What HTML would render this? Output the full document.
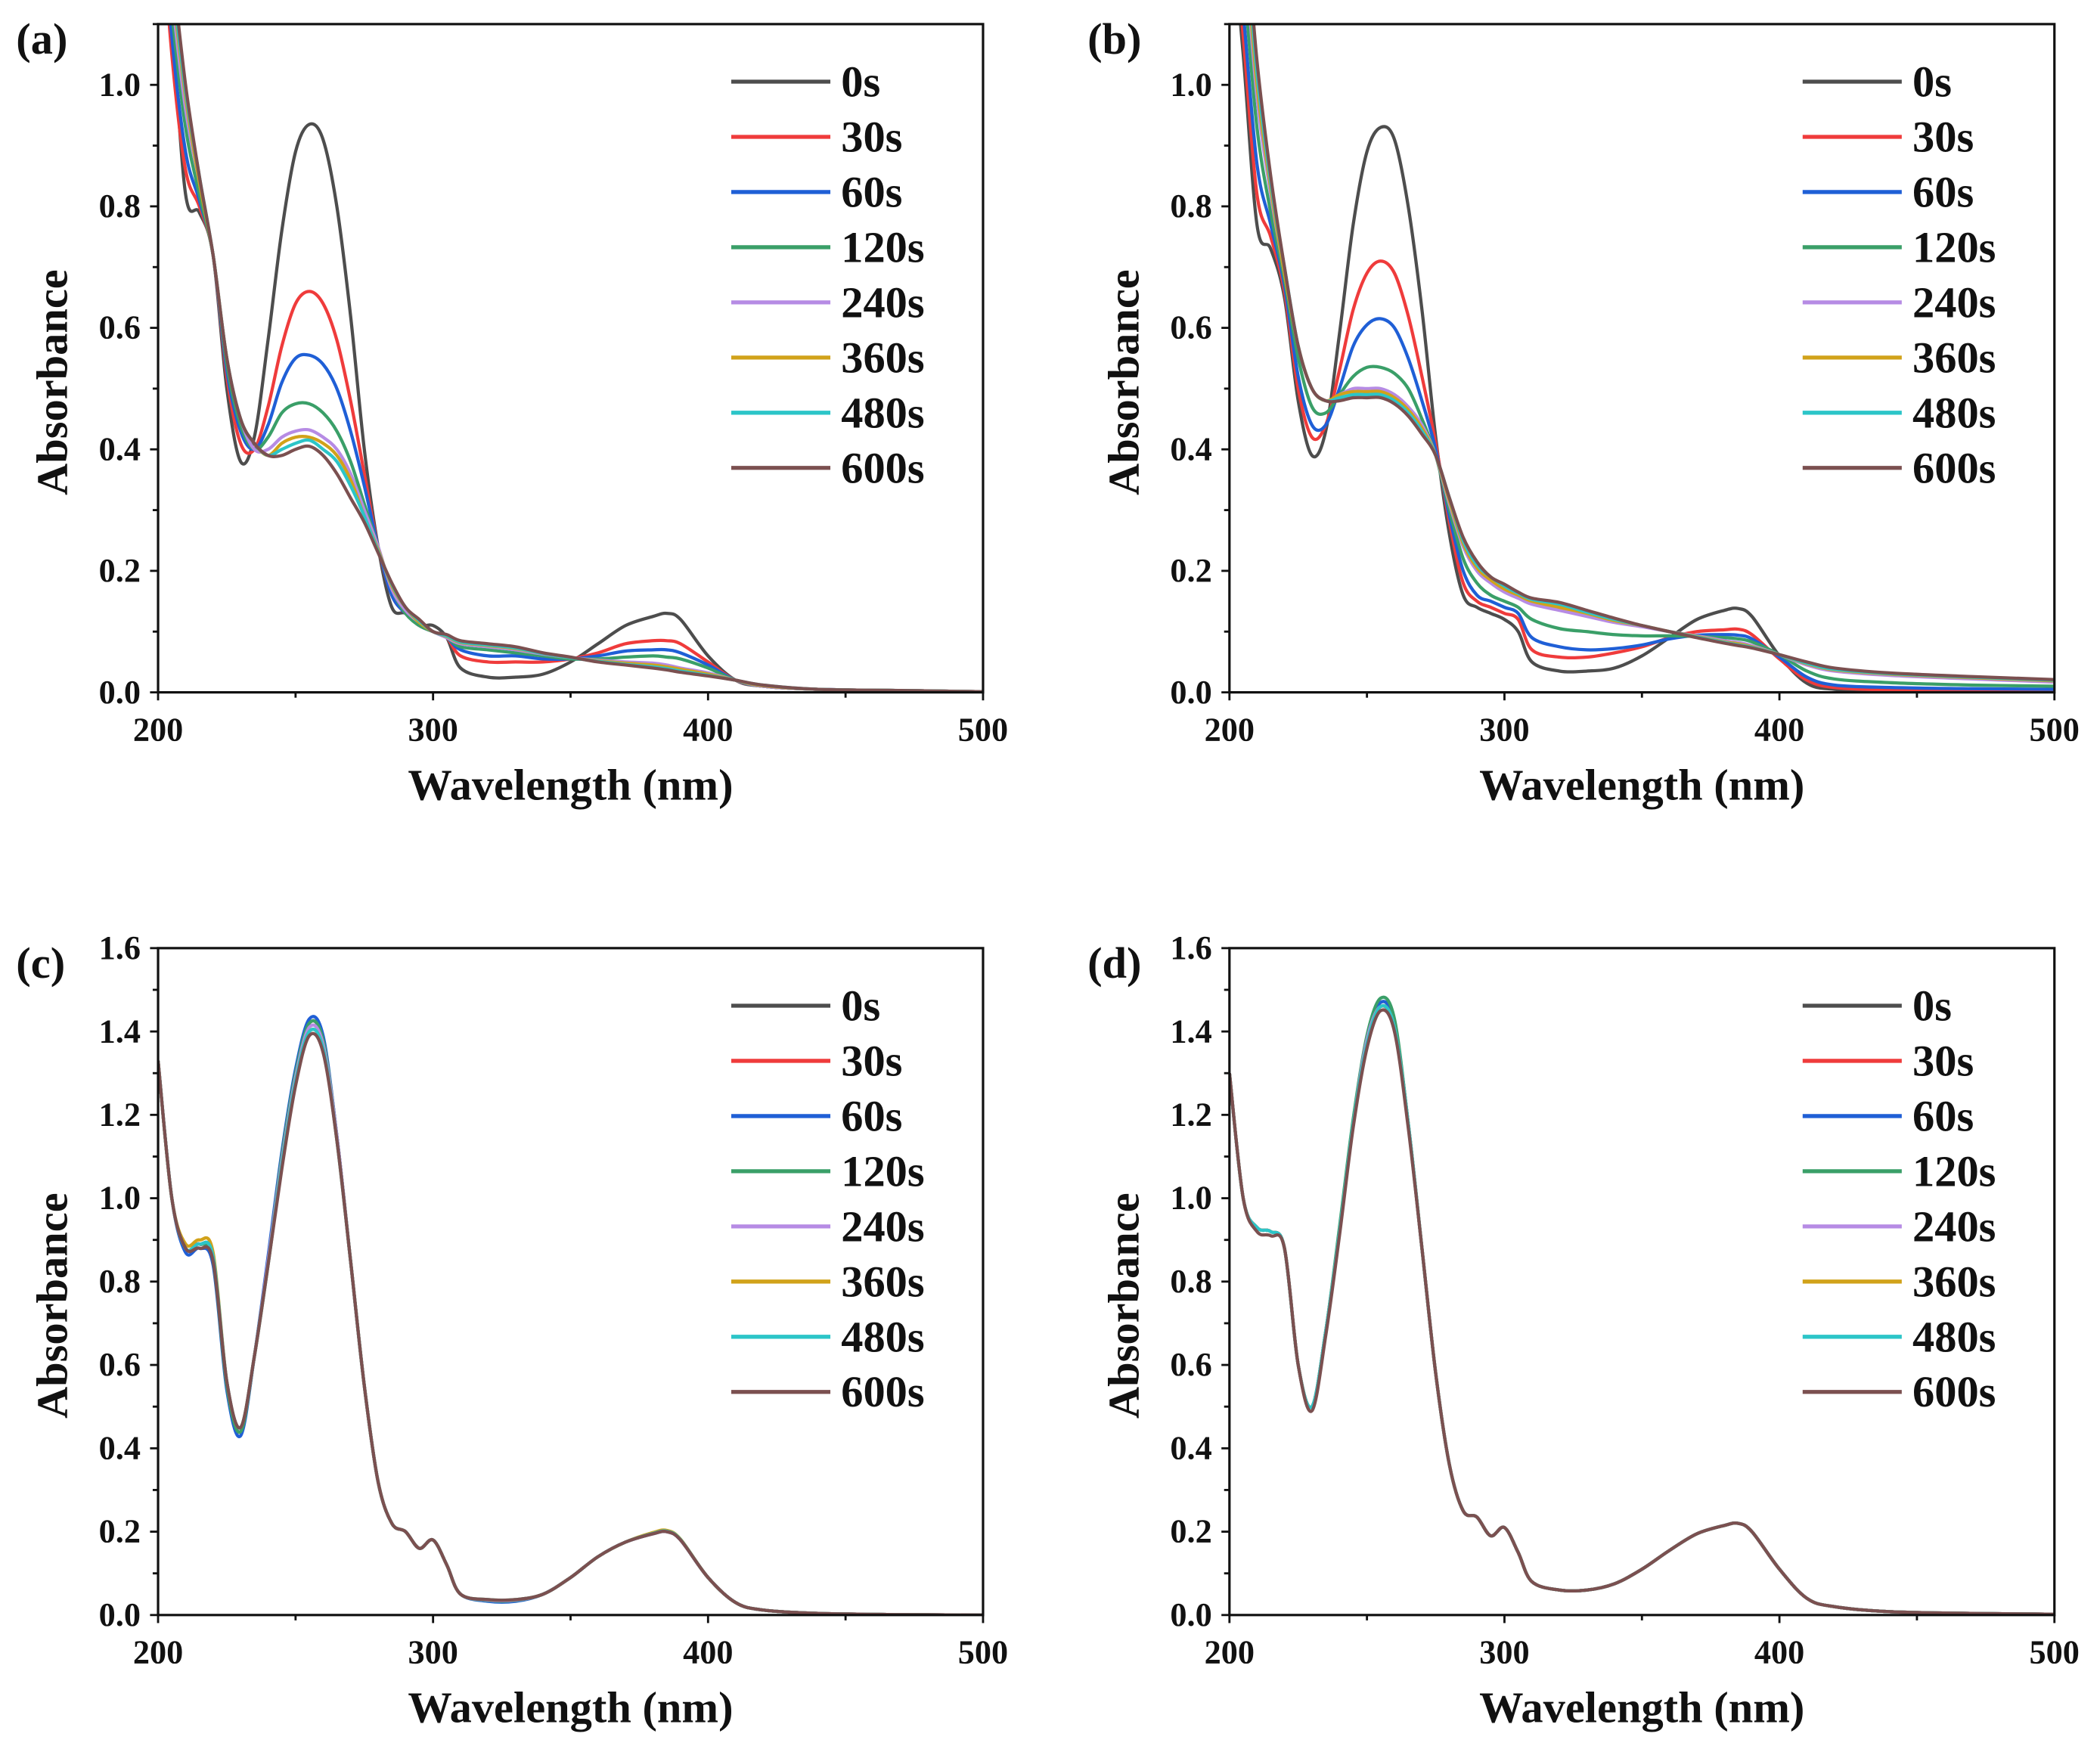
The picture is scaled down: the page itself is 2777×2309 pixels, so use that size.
<!DOCTYPE html>
<html><head><meta charset="utf-8"><style>
html,body{margin:0;padding:0;background:#fff;}
svg{display:block;}
text{font-family:"Liberation Serif",serif;font-weight:bold;fill:#111;}
</style></head><body>
<svg id="fig" width="2777" height="2309" viewBox="0 0 1568 1303.8" xmlns="http://www.w3.org/2000/svg"></svg>
<script>
const WL=[200,205,210,215,220,225,230,235,240,245,250,255,260,265,270,275,280,285,290,295,300,305,310,320,330,340,350,360,370,380,385,390,400,410,420,440,470,500];
const SERIES_NAMES=["0s","30s","60s","120s","240s","360s","480s","600s"];
const COLORS=["#4d4d4d","#ef3b3b","#1f5fd6","#3a9f68","#b68be4","#d1a21a","#2cc5c8","#7b5050"];
const YT_AB=[0,0.2,0.4,0.6,0.8,1.0];
const YT_CD=[0,0.2,0.4,0.6,0.8,1.0,1.2,1.4,1.6];
const XT=[200,300,400,500];
// panel (a)
const A0=[1.30,1.10,0.82,0.79,0.72,0.50,0.38,0.42,0.58,0.76,0.89,0.935,0.91,0.80,0.62,0.40,0.24,0.14,0.13,0.11,0.11,0.09,0.04,0.025,0.025,0.03,0.05,0.08,0.11,0.125,0.13,0.12,0.06,0.02,0.01,0.005,0.003,0.001];
const A1=[1.35,1.05,0.86,0.80,0.72,0.52,0.41,0.40,0.47,0.57,0.64,0.66,0.64,0.58,0.48,0.36,0.24,0.16,0.13,0.11,0.10,0.09,0.06,0.05,0.05,0.05,0.055,0.065,0.08,0.085,0.085,0.08,0.05,0.02,0.01,0.005,0.003,0.001];
const A2=[1.37,1.08,0.89,0.81,0.72,0.53,0.43,0.40,0.44,0.51,0.55,0.555,0.54,0.50,0.43,0.34,0.24,0.16,0.13,0.11,0.10,0.09,0.07,0.06,0.06,0.055,0.055,0.06,0.068,0.07,0.07,0.065,0.045,0.02,0.01,0.005,0.003,0.001];
const A3=[1.38,1.12,0.93,0.82,0.72,0.54,0.44,0.40,0.42,0.46,0.475,0.475,0.46,0.43,0.38,0.31,0.24,0.17,0.13,0.11,0.10,0.09,0.075,0.07,0.065,0.06,0.055,0.055,0.058,0.06,0.058,0.055,0.04,0.02,0.01,0.005,0.003,0.001];
const A4=[1.39,1.15,0.96,0.84,0.72,0.55,0.45,0.40,0.40,0.42,0.43,0.432,0.42,0.40,0.36,0.30,0.24,0.17,0.135,0.115,0.10,0.09,0.08,0.075,0.07,0.063,0.057,0.053,0.05,0.048,0.045,0.04,0.032,0.02,0.01,0.005,0.003,0.001];
const A5=[1.40,1.17,0.98,0.84,0.72,0.55,0.45,0.41,0.39,0.41,0.42,0.42,0.41,0.39,0.35,0.29,0.235,0.175,0.14,0.115,0.10,0.092,0.082,0.077,0.072,0.064,0.057,0.052,0.048,0.045,0.042,0.038,0.03,0.02,0.011,0.005,0.003,0.001];
const A6=[1.40,1.18,0.99,0.85,0.72,0.55,0.45,0.41,0.39,0.40,0.41,0.415,0.40,0.38,0.34,0.29,0.232,0.178,0.14,0.118,0.10,0.093,0.083,0.078,0.073,0.064,0.057,0.051,0.046,0.042,0.039,0.035,0.028,0.02,0.012,0.005,0.003,0.001];
const A7=[1.40,1.20,1.00,0.85,0.72,0.55,0.45,0.41,0.39,0.39,0.40,0.405,0.39,0.36,0.32,0.28,0.23,0.18,0.14,0.12,0.10,0.095,0.085,0.08,0.075,0.065,0.058,0.05,0.045,0.04,0.037,0.033,0.027,0.02,0.012,0.005,0.003,0.001];
// panel (b)
const B0=[1.30,1.05,0.77,0.73,0.65,0.48,0.39,0.43,0.59,0.77,0.89,0.93,0.91,0.80,0.63,0.42,0.26,0.16,0.14,0.13,0.12,0.10,0.05,0.035,0.035,0.04,0.06,0.09,0.12,0.135,0.138,0.125,0.06,0.015,0.005,0.002,0.001,0.001];
const B1=[1.33,1.08,0.82,0.75,0.66,0.50,0.42,0.44,0.53,0.63,0.69,0.71,0.69,0.62,0.52,0.41,0.28,0.18,0.15,0.14,0.13,0.12,0.07,0.058,0.058,0.065,0.075,0.09,0.10,0.103,0.104,0.095,0.055,0.02,0.008,0.004,0.003,0.003];
const B2=[1.35,1.12,0.87,0.77,0.67,0.52,0.44,0.44,0.50,0.57,0.605,0.615,0.60,0.55,0.48,0.40,0.29,0.20,0.16,0.15,0.14,0.13,0.09,0.075,0.07,0.072,0.078,0.088,0.094,0.095,0.094,0.088,0.058,0.025,0.012,0.008,0.006,0.005];
const B3=[1.38,1.18,0.93,0.79,0.68,0.55,0.47,0.46,0.49,0.52,0.535,0.535,0.525,0.50,0.45,0.39,0.30,0.22,0.18,0.16,0.15,0.14,0.12,0.105,0.10,0.095,0.093,0.093,0.092,0.09,0.088,0.083,0.062,0.035,0.022,0.016,0.012,0.01];
const B4=[1.40,1.24,0.98,0.82,0.69,0.57,0.50,0.48,0.49,0.50,0.50,0.50,0.49,0.47,0.44,0.39,0.31,0.24,0.20,0.18,0.165,0.155,0.145,0.135,0.125,0.115,0.108,0.1,0.093,0.085,0.082,0.077,0.062,0.045,0.035,0.028,0.022,0.017];
const B5=[1.41,1.26,1.00,0.83,0.69,0.57,0.50,0.48,0.49,0.495,0.495,0.495,0.485,0.465,0.435,0.39,0.315,0.245,0.205,0.185,0.17,0.16,0.15,0.14,0.13,0.118,0.11,0.1,0.092,0.083,0.08,0.075,0.062,0.047,0.037,0.03,0.024,0.019];
const B6=[1.42,1.28,1.02,0.84,0.70,0.57,0.50,0.48,0.485,0.49,0.49,0.49,0.48,0.46,0.43,0.39,0.32,0.25,0.21,0.19,0.175,0.163,0.153,0.145,0.132,0.12,0.11,0.1,0.091,0.082,0.078,0.074,0.062,0.048,0.038,0.031,0.025,0.02];
const B7=[1.43,1.30,1.04,0.85,0.70,0.57,0.50,0.48,0.48,0.485,0.485,0.485,0.475,0.455,0.425,0.39,0.32,0.255,0.215,0.19,0.178,0.165,0.155,0.148,0.135,0.122,0.11,0.1,0.09,0.081,0.077,0.073,0.062,0.05,0.04,0.032,0.026,0.021];
// panel (c)
const C0=[1.33,1.00,0.88,0.89,0.85,0.55,0.44,0.62,0.85,1.10,1.30,1.42,1.38,1.15,0.85,0.55,0.32,0.22,0.20,0.16,0.18,0.12,0.05,0.035,0.035,0.05,0.09,0.14,0.175,0.195,0.20,0.18,0.09,0.03,0.012,0.004,0.001,0.0];
const C1=[1.33,1.00,0.88,0.89,0.85,0.55,0.44,0.62,0.85,1.10,1.30,1.42,1.38,1.15,0.85,0.55,0.32,0.22,0.20,0.16,0.18,0.12,0.05,0.035,0.035,0.05,0.09,0.14,0.175,0.195,0.20,0.18,0.09,0.03,0.012,0.004,0.001,0.0];
const C2=[1.33,1.00,0.87,0.88,0.84,0.54,0.43,0.62,0.86,1.11,1.31,1.43,1.39,1.15,0.85,0.55,0.32,0.22,0.20,0.16,0.18,0.12,0.05,0.033,0.033,0.05,0.09,0.14,0.175,0.195,0.20,0.18,0.09,0.03,0.012,0.004,0.001,0.0];
const C3=[1.33,1.00,0.88,0.89,0.85,0.55,0.44,0.62,0.85,1.10,1.30,1.42,1.38,1.15,0.85,0.55,0.32,0.22,0.20,0.16,0.18,0.12,0.05,0.035,0.035,0.05,0.09,0.14,0.175,0.195,0.20,0.18,0.09,0.03,0.012,0.004,0.001,0.0];
const C4=[1.33,1.00,0.88,0.89,0.86,0.56,0.45,0.62,0.85,1.09,1.29,1.41,1.37,1.15,0.85,0.55,0.32,0.22,0.20,0.16,0.18,0.12,0.05,0.036,0.036,0.05,0.09,0.14,0.175,0.195,0.20,0.18,0.09,0.03,0.012,0.004,0.001,0.0];
const C5=[1.33,1.00,0.89,0.90,0.87,0.56,0.45,0.62,0.84,1.08,1.28,1.40,1.36,1.14,0.85,0.55,0.32,0.22,0.20,0.16,0.18,0.12,0.05,0.037,0.037,0.05,0.09,0.14,0.175,0.198,0.203,0.182,0.09,0.03,0.012,0.004,0.001,0.0];
const C6=[1.33,1.00,0.88,0.89,0.86,0.56,0.45,0.62,0.84,1.08,1.28,1.40,1.36,1.14,0.85,0.55,0.32,0.22,0.20,0.16,0.18,0.12,0.05,0.037,0.037,0.05,0.09,0.14,0.175,0.196,0.201,0.181,0.09,0.03,0.012,0.004,0.001,0.0];
const C7=[1.33,1.00,0.88,0.88,0.85,0.56,0.45,0.62,0.84,1.07,1.27,1.39,1.35,1.14,0.85,0.55,0.32,0.22,0.20,0.16,0.18,0.12,0.05,0.037,0.037,0.05,0.09,0.14,0.175,0.195,0.20,0.18,0.09,0.03,0.012,0.004,0.001,0.0];
// panel (d)
const D0=[1.30,1.00,0.93,0.92,0.88,0.60,0.50,0.68,0.92,1.18,1.38,1.47,1.42,1.18,0.88,0.58,0.36,0.25,0.235,0.19,0.21,0.15,0.08,0.06,0.06,0.075,0.11,0.155,0.195,0.215,0.22,0.20,0.11,0.04,0.02,0.008,0.004,0.002];
const D1=[1.30,1.00,0.93,0.92,0.88,0.60,0.50,0.68,0.92,1.18,1.38,1.46,1.41,1.18,0.88,0.58,0.36,0.25,0.235,0.19,0.21,0.15,0.08,0.06,0.06,0.075,0.11,0.155,0.195,0.215,0.22,0.20,0.11,0.04,0.02,0.008,0.004,0.002];
const D2=[1.30,1.00,0.93,0.92,0.88,0.60,0.50,0.68,0.92,1.18,1.38,1.47,1.42,1.18,0.88,0.58,0.36,0.25,0.235,0.19,0.21,0.15,0.08,0.06,0.06,0.075,0.11,0.155,0.195,0.215,0.22,0.20,0.11,0.04,0.02,0.008,0.004,0.002];
const D3=[1.30,1.00,0.93,0.92,0.88,0.60,0.50,0.68,0.93,1.19,1.39,1.48,1.43,1.18,0.88,0.58,0.36,0.25,0.235,0.19,0.21,0.15,0.08,0.06,0.06,0.075,0.11,0.155,0.195,0.215,0.22,0.20,0.11,0.04,0.02,0.008,0.004,0.002];
const D4=[1.30,1.00,0.93,0.92,0.88,0.60,0.50,0.68,0.92,1.18,1.38,1.46,1.41,1.18,0.88,0.58,0.36,0.25,0.235,0.19,0.21,0.15,0.08,0.06,0.06,0.075,0.11,0.155,0.195,0.215,0.22,0.20,0.11,0.04,0.02,0.008,0.004,0.002];
const D5=[1.30,1.00,0.93,0.92,0.88,0.60,0.50,0.68,0.92,1.18,1.37,1.46,1.41,1.18,0.88,0.58,0.36,0.25,0.235,0.19,0.21,0.15,0.08,0.06,0.06,0.075,0.11,0.155,0.195,0.215,0.22,0.20,0.11,0.04,0.02,0.008,0.004,0.002];
const D6=[1.30,1.00,0.93,0.92,0.88,0.60,0.50,0.68,0.92,1.18,1.37,1.46,1.41,1.18,0.88,0.58,0.36,0.25,0.235,0.19,0.21,0.15,0.08,0.06,0.06,0.075,0.11,0.155,0.195,0.215,0.22,0.20,0.11,0.04,0.02,0.008,0.004,0.002];
const D7=[1.30,1.00,0.92,0.91,0.88,0.60,0.49,0.67,0.91,1.17,1.36,1.45,1.40,1.17,0.88,0.58,0.36,0.25,0.235,0.19,0.21,0.15,0.08,0.06,0.06,0.075,0.11,0.155,0.195,0.215,0.22,0.20,0.11,0.04,0.02,0.008,0.004,0.002];

const PANELS=[
 {id:"a",x0:118,x1:734,top:18,bot:517,ymax:1.1,yt:YT_AB,minor:0.1,data:[A0,A1,A2,A3,A4,A5,A6,A7]},
 {id:"b",x0:918,x1:1534,top:18,bot:517,ymax:1.1,yt:YT_AB,minor:0.1,data:[B0,B1,B2,B3,B4,B5,B6,B7]},
 {id:"c",x0:118,x1:734,top:708,bot:1206,ymax:1.6,yt:YT_CD,minor:0.1,data:[C0,C1,C2,C3,C4,C5,C6,C7]},
 {id:"d",x0:918,x1:1534,top:708,bot:1206,ymax:1.6,yt:YT_CD,minor:0.1,data:[D0,D1,D2,D3,D4,D5,D6,D7]}
];
const NS="http://www.w3.org/2000/svg";
const svg=document.getElementById("fig");
function mk(tag,attrs,parent){const e=document.createElementNS(NS,tag);for(const k in attrs)e.setAttribute(k,attrs[k]);(parent||svg).appendChild(e);return e;}
function smooth(pts){let d="M"+pts[0][0].toFixed(2)+","+pts[0][1].toFixed(2);
 for(let i=0;i<pts.length-1;i++){const p0=pts[Math.max(0,i-1)],p1=pts[i],p2=pts[i+1],p3=pts[Math.min(pts.length-1,i+2)];
  const c1=[p1[0]+(p2[0]-p0[0])/6,p1[1]+(p2[1]-p0[1])/6],c2=[p2[0]-(p3[0]-p1[0])/6,p2[1]-(p3[1]-p1[1])/6];
  d+="C"+c1[0].toFixed(2)+","+c1[1].toFixed(2)+" "+c2[0].toFixed(2)+","+c2[1].toFixed(2)+" "+p2[0].toFixed(2)+","+p2[1].toFixed(2);}
 return d;}
PANELS.forEach(P=>{
 const xs=v=>P.x0+(v-200)/300*(P.x1-P.x0);
 const ys=v=>P.bot-v/P.ymax*(P.bot-P.top);
 const g=mk("g",{});
 
 
 const cp=mk("clipPath",{id:"clip"+P.id},g);
 mk("rect",{x:P.x0,y:P.top,width:P.x1-P.x0,height:P.bot-P.top},cp);
 const lines=mk("g",{"clip-path":"url(#clip"+P.id+")"},g);
 
 
 P.data.forEach((arr,si)=>{
  const pts=WL.map((w,i)=>[xs(w),ys(arr[i])]);
  const p=mk("path",{d:smooth(pts),fill:"none",stroke:COLORS[si],"stroke-width":2.4,"stroke-linejoin":"round"},lines);
  
  
 });
 const fr=mk("rect",{x:P.x0,y:P.top,width:P.x1-P.x0,height:P.bot-P.top,fill:"none",stroke:"#111","stroke-width":1.8},g);
 
 
 for(let w=200;w<=500;w+=50){const major=XT.includes(w);
  mk("line",{x1:xs(w),x2:xs(w),y1:P.bot,y2:P.bot+(major?6:4),stroke:"#111","stroke-width":1.6},g);}
 XT.forEach(w=>{const t=mk("text",{x:xs(w),y:P.bot+36,"text-anchor":"middle","font-size":25},g);t.textContent=w;
  
  });
 for(let v=0;v<=P.ymax+1e-9;v+=P.minor){const major=P.yt.some(t=>Math.abs(t-v)<1e-6);
  mk("line",{x1:P.x0,x2:P.x0-(major?6:4),y1:ys(v),y2:ys(v),stroke:"#111","stroke-width":1.6},g);}
 P.yt.forEach(v=>{const t=mk("text",{x:P.x0-13,y:ys(v)+8,"text-anchor":"end","font-size":25},g);t.textContent=v.toFixed(1);
  
  });
 const xt=mk("text",{x:(P.x0+P.x1)/2,y:P.bot+80,"text-anchor":"middle","font-size":33},g);xt.textContent="Wavelength (nm)";
 
 
 const cy=(P.top+P.bot)/2+18, cx=P.x0-68;
 const yt=mk("text",{x:cx,y:cy,"text-anchor":"middle","font-size":33,transform:"rotate(-90 "+cx+" "+cy+")"},g);yt.textContent="Absorbance";
 
 
 const pl=mk("text",{x:P.x0-106,y:P.top+22,"font-size":33},g);pl.textContent="("+P.id+")";
 
 
 const lg=mk("g",{},g);
 
 
 SERIES_NAMES.forEach((n,i)=>{const y=P.top+43+41.2*i;
  const e=mk("g",{},lg);
  
  
  mk("line",{x1:P.x0+428,x2:P.x0+502,y1:y,y2:y,stroke:COLORS[i],"stroke-width":3},e);
  const t=mk("text",{x:P.x0+510,y:y+11,"font-size":33},e);t.textContent=n;});
});
</script>
</body></html>
